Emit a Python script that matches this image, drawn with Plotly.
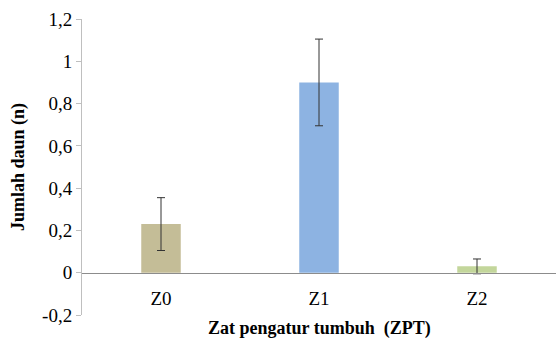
import plotly.graph_objects as go

categories = ["Z0", "Z1", "Z2"]
values = [0.23, 0.90, 0.03]
errors = [0.125, 0.205, 0.035]
bar_colors = ["#C4BD97", "#8DB3E2", "#C3D69B"]
y_tickvals = [-0.2, 0, 0.2, 0.4, 0.6, 0.8, 1.0, 1.2]
y_ticktext = ["-0,2", "0", "0,2", "0,4", "0,6", "0,8", "1", "1,2"]

ymin, ymax = -0.2, 1.2
font_family = "'Times New Roman', 'Liberation Serif', 'DejaVu Serif', serif"

fig = go.Figure()
fig.add_trace(go.Bar(
    x=categories, y=values,
    marker=dict(color=bar_colors, line=dict(width=0)),
    width=0.25,
    error_y=dict(type="data", array=errors, visible=True,
                 color="#333333", thickness=1, width=4),
))

fig.update_layout(
    template="none",
    width=556, height=343,
    margin=dict(l=82, r=0, t=19, b=28),
    paper_bgcolor="white", plot_bgcolor="white",
    showlegend=False,
    font=dict(family=font_family, color="#000000"),
    xaxis=dict(
        range=[-0.5, 2.5],
        anchor="free",
        position=(0 - ymin) / (ymax - ymin),
        showline=True, linecolor="#8C8C8C", linewidth=1,
        ticks="", showgrid=False, zeroline=False,
        tickfont=dict(size=19, family=font_family, color="#000000"),
        ticklabelstandoff=8,
        automargin=False,
    ),
    yaxis=dict(
        range=[ymin, ymax],
        tickvals=y_tickvals, ticktext=y_ticktext,
        showline=True, linecolor="#BFBFBF", linewidth=1,
        ticks="outside", ticklen=5, tickcolor="#BFBFBF",
        showgrid=False, zeroline=False,
        tickfont=dict(size=19, family=font_family, color="#000000"),
        title=dict(text="<b>Jumlah daun (n)</b>", font=dict(size=18, family=font_family, color="#000000"), standoff=12),
        automargin=False,
    ),
)

fig.add_annotation(
    text="<b>Zat pengatur tumbuh  (ZPT)</b>",
    xref="paper", yref="paper", x=0.5, y=0, yshift=-13,
    showarrow=False, yanchor="middle", xanchor="center",
    font=dict(size=18, family=font_family, color="#000000"),
)

fig.write_html(
    "out.html",
    config={"displayModeBar": False},
    post_script="document.body.style.margin='0';document.body.style.padding='0';",
)
